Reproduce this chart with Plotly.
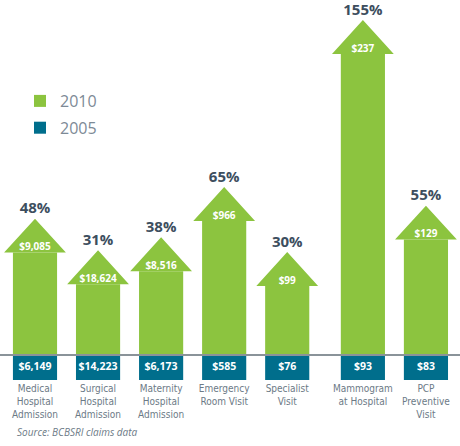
import plotly.graph_objects as go

# data
categories = ["Medical<br>Hospital<br>Admission", "Surgical<br>Hospital<br>Admission",
              "Maternity<br>Hospital<br>Admission", "Emergency<br>Room Visit",
              "Specialist<br>Visit", "Mammogram<br>at Hospital", "PCP<br>Preventive<br>Visit"]
cost_2005 = ["$6,149", "$14,223", "$6,173", "$585", "$76", "$93", "$83"]
cost_2010 = ["$9,085", "$18,624", "$8,516", "$966", "$99", "$237", "$129"]
pct_increase = [48, 31, 38, 65, 30, 155, 55]

GREEN = "#8cc43f"
BLUE = "#006e8c"
DARK = "#3d4e5e"
GRAY = "#6c7a86"

# layout helpers (slot positions, arrow geometry in axis units)
xpos = [i + (0.2 if i >= 5 else 0) for i in range(len(categories))]
offset = 25.5      # arrow tip sits this far above the % value
head_h = 18.3      # arrowhead height
head_w = 0.49      # half width of arrowhead
bar_w = 0.70
box_h = 13.5

shaft = [p + offset - head_h for p in pct_increase]
tips = [p + offset for p in pct_increase]

fig = go.Figure()

fig.add_trace(go.Bar(x=xpos, y=shaft, base=0, width=bar_w, name="2010",
                     marker=dict(color=GREEN, line=dict(width=0)),
                     legendgroup="a", hoverinfo="skip"))
fig.add_trace(go.Bar(x=xpos, y=[box_h] * len(xpos), base=-box_h, width=bar_w, name="2005",
                     marker=dict(color=BLUE, line=dict(width=0)),
                     legendgroup="b", hoverinfo="skip"))

# arrowheads
hx, hy = [], []
for x, s, t in zip(xpos, shaft, tips):
    hx += [x - head_w, x + head_w, x, x - head_w, None]
    hy += [s, s, t, s, None]
fig.add_trace(go.Scatter(x=hx, y=hy, mode="lines", fill="toself", fillcolor=GREEN,
                         line=dict(width=0, color=GREEN), showlegend=False, hoverinfo="skip"))

# percent labels
fig.add_trace(go.Scatter(x=xpos, y=[t + 5.0 for t in tips], mode="text", cliponaxis=False,
                         text=[f"{p}%" for p in pct_increase], showlegend=False,
                         textfont=dict(family="Open Sans", size=15, color=DARK, weight="bold")))
# 2010 values
fig.add_trace(go.Scatter(x=xpos, y=[s + 2.7 for s in shaft], mode="text", text=cost_2010,
                         showlegend=False,
                         textfont=dict(family="Open Sans", size=10, color="white", weight="bold")))
# 2005 values
fig.add_trace(go.Scatter(x=xpos, y=[-box_h / 2] * len(xpos), mode="text", text=cost_2005,
                         showlegend=False,
                         textfont=dict(family="Open Sans", size=10.5, color="white", weight="bold")))

fig.add_shape(type="line", xref="paper", x0=0, x1=1, yref="y", y0=0, y1=0,
              line=dict(color="#8a9399", width=2))

fig.add_annotation(text="<i>Source: BCBSRI claims data</i>", xref="paper", yref="paper",
                   x=15 / 460, y=1 - 432 / 446, xanchor="left", yanchor="middle",
                   showarrow=False, font=dict(family="Open Sans", size=10, color=GRAY))

fig.update_layout(
    width=460, height=446,
    margin=dict(l=0, r=0, t=0, b=0),
    paper_bgcolor="white", plot_bgcolor="white",
    barmode="overlay",
    showlegend=True,
    legend=dict(x=20 / 460, y=1 - 84 / 446, xanchor="left", yanchor="top",
                bgcolor="rgba(0,0,0,0)", tracegroupgap=3,
                font=dict(family="Open Sans", size=16, color="#7d8a96")),
    xaxis=dict(range=[-0.555, 6.74], tickvals=xpos, ticktext=categories,
               anchor="free", position=1 - 381 / 446, side="bottom",
               showgrid=False, zeroline=False, showline=False, ticks="",
               tickfont=dict(family="Liberation Sans Narrow, DejaVu Sans Condensed", size=10,
                             color=GRAY)),
    yaxis=dict(range=[-49.0, 191.3], visible=False, showgrid=False, zeroline=False),
)

fig.write_html("out.html", config={"displayModeBar": False},
               post_script="document.body.style.margin='0';")
